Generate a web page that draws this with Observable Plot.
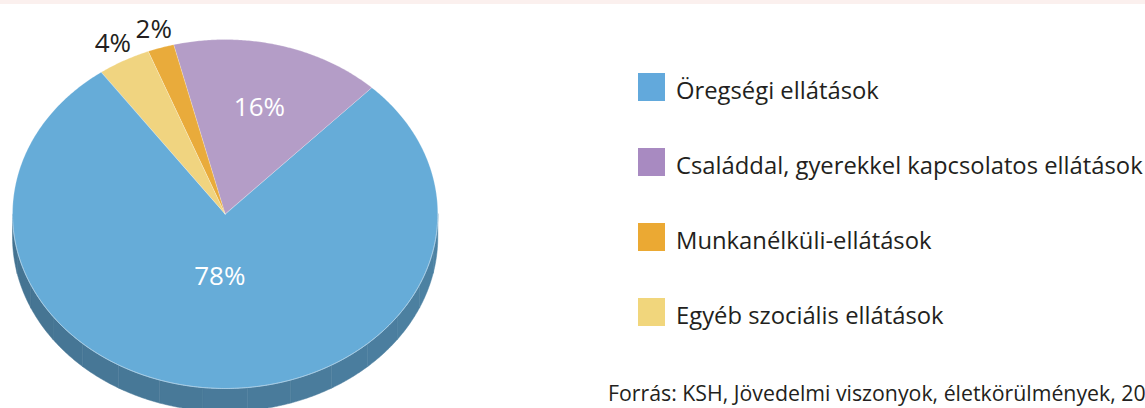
<!DOCTYPE html>
<html>
<head>
<meta charset="utf-8">
<script src="https://cdn.jsdelivr.net/npm/d3@7"></script>
<script src="https://cdn.jsdelivr.net/npm/@observablehq/plot@0.6"></script>
<style>
  html, body { margin: 0; padding: 0; background: #fff; }
  #wrap {
    position: relative; width: 1145px; height: 408px; overflow: hidden;
    font-family: "Open Sans", sans-serif; color: #231f20;
    background: linear-gradient(#fbf0ee 0, #fbf0ee 4px, #ffffff 4px);
  }
  #chart { position: absolute; left: 0; top: 0; }
  #chart svg { display: block; }
  .item { position: absolute; left: 638px; height: 28px; display: flex; align-items: flex-start; white-space: nowrap; }
  .sw { width: 27px; height: 28px; flex: none; }
  .lbl { margin-left: 11px; font-size: 23.8px; line-height: 28px; padding-top: 3px; }
  .caption { position: absolute; left: 608px; top: 384px; font-size: 21.3px; line-height: 17px; white-space: nowrap; }
</style>
</head>
<body>
<div id="wrap">
  <div id="chart"></div>
  <div id="legend"></div>
  <div class="caption" id="caption"></div>
</div>
<script>
// ---- data ----
const categories = [
  "Öregségi ellátások",
  "Családdal, gyerekkel kapcsolatos ellátások",
  "Munkanélküli-ellátások",
  "Egyéb szociális ellátások"
];
const shares = [78, 16, 2, 4];
const labels = ["78%", "16%", "2%", "4%"];
const captionText = "Forrás: KSH, Jövedelmi viszonyok, életkörülmények, 20";

// ---- styles ----
const pieColors = ["#66acd8", "#b49dc7", "#e9ab3b", "#f0d480"];
const legendColors = ["#62a9dc", "#a88ac1", "#eba933", "#f1d67c"];

const deg = Math.PI / 180;
const START = -35.6 * deg;   // where the first slice begins (clockwise from top)
const DEPTH = 0.132;          // 3D thickness, in radius units
const STEP = 0.5 * deg;

const rows = categories.map((c, i) => ({category: c, share: shares[i], label: labels[i], color: pieColors[i]}));
const arcs = d3.pie().sort(null).value(d => d.share)
  .startAngle(START).endAngle(START - 2 * Math.PI)(rows);

function arcPts(a0, a1, dy = 0) {
  const n = Math.max(1, Math.ceil(Math.abs(a1 - a0) / STEP));
  return d3.range(n + 1).map(t => {
    const a = a0 + (a1 - a0) * t / n;
    return {x: Math.sin(a), y: Math.cos(a) + dy};
  });
}

// top face polygons
const topPts = arcs.flatMap((a, i) =>
  [{x: 0, y: 0}, ...arcPts(a.startAngle, a.endAngle)].map(p => ({...p, id: i, fill: a.data.color})));

// side (front half only), faceted
const sidePts = [];
let fid = 0;
arcs.forEach(a => {
  const lo = Math.min(a.startAngle, a.endAngle), hi = Math.max(a.startAngle, a.endAngle);
  for (let k = -2; k <= 2; k++) {
    const s = Math.max(lo + 2 * Math.PI * k, Math.PI / 2);
    const e = Math.min(hi + 2 * Math.PI * k, 3 * Math.PI / 2);
    if (e <= s) continue;
    const nf = Math.max(1, Math.round((e - s) / (12 * deg)));
    for (let j = 0; j < nf; j++) {
      const fs = s + (e - s) * j / nf, fe = s + (e - s) * (j + 1) / nf;
      const t = ((fs + fe) / 2 - Math.PI / 2) / Math.PI;
      const col = d3.color(a.data.color).darker(0.78 + 0.35 * t).formatHex();
      const pts = [...arcPts(fs, fe), ...arcPts(fs, fe, -DEPTH).reverse()];
      pts.forEach(p => sidePts.push({...p, id: fid, fill: col}));
      fid++;
    }
  }
});

const rimPts = arcPts(Math.PI / 2, 3 * Math.PI / 2);

const labelRadius = v => v >= 50 ? 0.36 : v >= 10 ? 0.63 : 1.11;
const labelData = arcs.map(a => {
  const m = (a.startAngle + a.endAngle) / 2, r = labelRadius(a.data.share);
  return {x: r * Math.sin(m), y: r * Math.cos(m), text: a.data.label, fill: a.data.share >= 10 ? "#ffffff" : "#231f20"};
});

const chart = Plot.plot({
  width: 1145,
  height: 408,
  margin: 0,
  style: {background: "transparent", fontFamily: "Open Sans, sans-serif"},
  x: {domain: [-1, 1], range: [12, 437.3], axis: null},
  y: {domain: [-1, 1], range: [388, 39], axis: null},
  color: {type: "identity"},
  marks: [
    Plot.line(sidePts, {x: "x", y: "y", z: "id", fill: "fill", stroke: "fill", strokeWidth: 0.5, curve: "linear-closed"}),
    Plot.line(topPts, {x: "x", y: "y", z: "id", fill: "fill", stroke: "#ffffff", strokeOpacity: 0.4, strokeWidth: 0.6, curve: "linear-closed"}),
    Plot.line(rimPts, {x: "x", y: "y", stroke: "#a9cfe8", strokeWidth: 0.8}),
    Plot.text(labelData, {x: "x", y: "y", text: "text", fill: "fill", fontSize: 26, fontFamily: "Open Sans", lineAnchor: "middle", textAnchor: "middle"})
  ]
});
document.getElementById("chart").append(chart);

// legend
const legend = document.getElementById("legend");
categories.forEach((c, i) => {
  const item = document.createElement("div");
  item.className = "item";
  item.style.top = (73 + i * 75) + "px";
  const sw = document.createElement("div");
  sw.className = "sw";
  sw.style.background = legendColors[i];
  const lb = document.createElement("div");
  lb.className = "lbl";
  lb.textContent = c;
  item.append(sw, lb);
  legend.append(item);
});
document.getElementById("caption").textContent = captionText;
</script>
</body>
</html>
